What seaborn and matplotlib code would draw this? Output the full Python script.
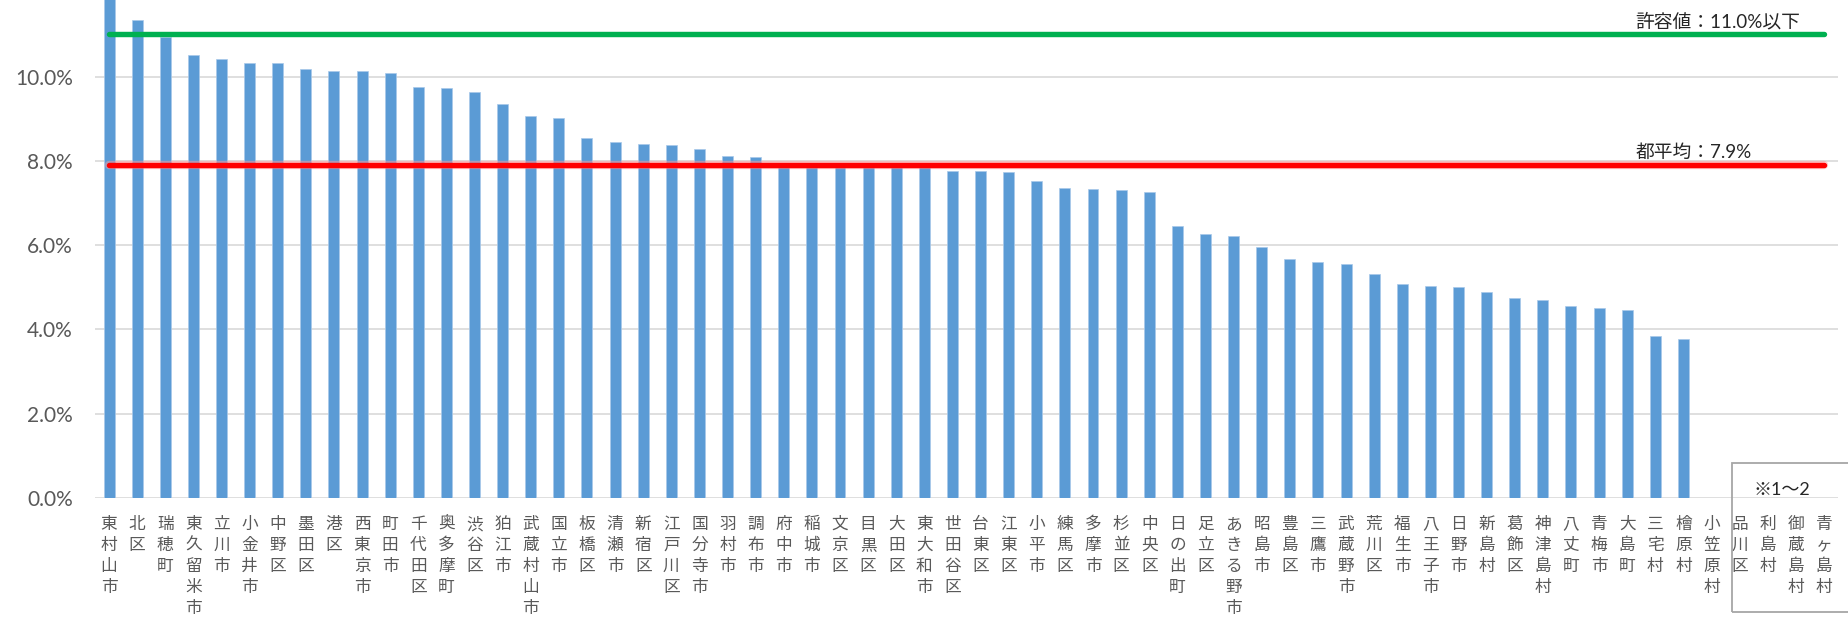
import numpy as np
import pandas as pd
import matplotlib
matplotlib.use("Agg")
import matplotlib.pyplot as plt
from matplotlib.patches import Rectangle
from matplotlib.ticker import FuncFormatter
import seaborn as sns

municipalities = [
    "東村山市", "北区", "瑞穂町", "東久留米市", "立川市", "小金井市", "中野区", "墨田区",
    "港区", "西東京市", "町田市", "千代田区", "奥多摩町", "渋谷区", "狛江市", "武蔵村山市",
    "国立市", "板橋区", "清瀬市", "新宿区", "江戸川区", "国分寺市", "羽村市", "調布市",
    "府中市", "稲城市", "文京区", "目黒区", "大田区", "東大和市", "世田谷区", "台東区",
    "江東区", "小平市", "練馬区", "多摩市", "杉並区", "中央区", "日の出町", "足立区",
    "あきる野市", "昭島市", "豊島区", "三鷹市", "武蔵野市", "荒川区", "福生市", "八王子市",
    "日野市", "新島村", "葛飾区", "神津島村", "八丈町", "青梅市", "大島町", "三宅村",
    "檜原村", "小笠原村", "品川区", "利島村", "御蔵島村", "青ヶ島村",
]
# 欠損率(%)  小笠原村以降はデータなし
rates = [
    12.0, 11.33, 10.95, 10.52, 10.42, 10.33, 10.32, 10.18,
    10.13, 10.12, 10.09, 9.74, 9.72, 9.64, 9.34, 9.07,
    9.01, 8.53, 8.44, 8.40, 8.38, 8.28, 8.12, 8.08,
    7.96, 7.93, 7.92, 7.91, 7.90, 7.89, 7.76, 7.75,
    7.73, 7.53, 7.36, 7.33, 7.31, 7.25, 6.45, 6.26,
    6.22, 5.96, 5.66, 5.59, 5.55, 5.32, 5.08, 5.03,
    5.00, 4.89, 4.74, 4.70, 4.55, 4.51, 4.46, 3.84,
    3.77, np.nan, np.nan, np.nan, np.nan, np.nan,
]
allowed_limit = 11.0
tokyo_average = 7.9
limit_label = "許容値：11.0%以下"
average_label = "都平均：7.9%"
note_label = "※1～2"
y_ticks = [0, 2, 4, 6, 8, 10, 12]

df = pd.DataFrame({"name": municipalities, "rate": rates})
df["label"] = df["name"].apply(lambda s: "\n".join(s))

sns.set_style("white")
plt.rcParams["font.family"] = ["Lato", "Noto Sans CJK JP"]

fig = plt.figure(figsize=(18.48, 6.2), dpi=100)
ax = fig.add_axes([0.0514, 0.1968, 0.9432, 0.8157])

sns.barplot(data=df, x="label", y="rate", order=list(df["label"]), color="#5b9bd5",
            saturation=1, width=0.39, edgecolor="#a9c9ea", linewidth=0.5, ax=ax)

n = len(df)
ax.set_xlim(-0.5, n - 0.5)
ax.set_ylim(0, y_ticks[-1])
ax.set_yticks(y_ticks)
ax.yaxis.set_major_formatter(FuncFormatter(lambda v, p: f"{v:.1f}%"))
ax.set_axisbelow(True)
ax.grid(axis="y", color="#d9d9d9", lw=1.2)
for s in ax.spines.values():
    s.set_visible(False)
ax.set_xlabel("")
ax.set_ylabel("")

# 基準線
ax.plot([0, n - 1], [allowed_limit, allowed_limit], color="#00b050", lw=3.9,
        solid_capstyle="round", zorder=4)
ax.plot([0, n - 1], [tokyo_average, tokyo_average], color="#ff9999", lw=6.0,
        alpha=0.5, solid_capstyle="round", zorder=4)
ax.plot([0, n - 1], [tokyo_average, tokyo_average], color="#ff0000", lw=3.9,
        solid_capstyle="round", zorder=5)

ax.annotate(limit_label, (54.3, allowed_limit), xytext=(0, 3), textcoords="offset points",
            va="bottom", ha="left", fontsize=13.5, color="#262626")
ax.annotate(average_label, (54.3, tokyo_average), xytext=(0, 3), textcoords="offset points",
            va="bottom", ha="left", fontsize=13.5, color="#262626")

ax.tick_params(axis="y", length=0, pad=16, labelsize=15, labelcolor="#595959")
ax.tick_params(axis="x", length=0, pad=13, labelsize=12, labelcolor="#595959")
for lbl in ax.get_xticklabels():
    lbl.set_fontfamily(["Noto Sans CJK JP"])
    lbl.set_linespacing(1.3)

# 注記枠
fig.patches.append(Rectangle((1732 / 1848, 1 - 612 / 620), 0.2, (612 - 463) / 620,
                             transform=fig.transFigure, fill=False,
                             edgecolor="#a6a6a6", lw=1.3))
fig.text(1753 / 1848, 1 - 490 / 620, note_label, ha="left", va="center",
         fontsize=13, color="#262626")

fig.savefig("out.png", dpi=100)
